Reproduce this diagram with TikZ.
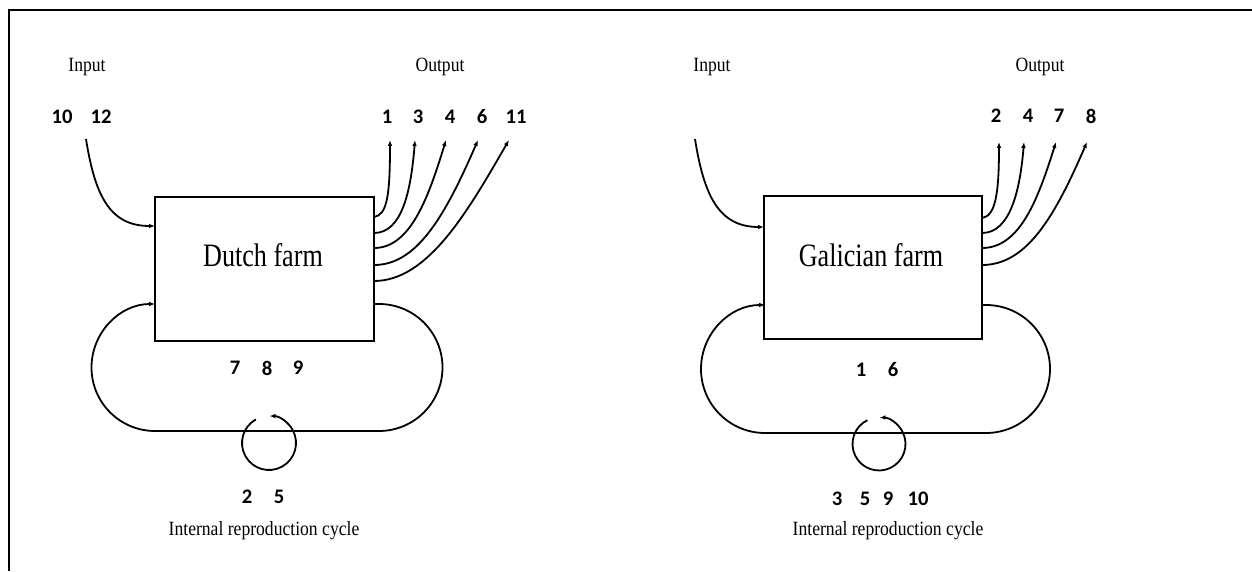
\documentclass[tikz,border=0pt]{standalone}
\usepackage{fontspec}
\setmainfont{Liberation Serif}
\newfontfamily\numfont{Carlito}
\usetikzlibrary{arrows.meta}
\begin{document}
\begin{tikzpicture}[x=0.75pt,y=0.75pt,
  line width=1.35pt,
  frameline/.style={line width=1.4pt},
  farmbox/.style={draw, line width=1.2pt, minimum width=164pt, minimum height=108pt, inner sep=0pt},
  farmtext/.style={font=\fontsize{19.6}{22}\selectfont, inner sep=0pt},
  lbl/.style={font=\fontsize{13.2}{15}\selectfont, inner sep=0pt},
  num/.style={font=\numfont\bfseries\fontsize{15.5}{17}\selectfont, inner sep=0pt},
  flow/.style={-{Latex[length=4.5pt,width=3.5pt]}},
]
\useasboundingbox (0,0) rectangle (1252,571);
% frame
\draw[frameline] (9,0) -- (9,561) -- (1252,561);

% ================= Dutch farm =================
\node[farmbox] (dbox) at (264.5,302) {};
\node[farmtext] (dlab) at (263,316) {\scalebox{1}[1.25]{Dutch farm}};
\node[lbl] (din) at (87,504) {\scalebox{1}[1.15]{Input}};
\node[lbl] (dout) at (440,504) {\scalebox{1}[1.15]{Output}};
\node[num] (dn10) at (62,454) {10};
\node[num] (dn12) at (101,454) {12};
\node[num] (do1) at (387,454) {1};
\node[num] (do3) at (418,454) {3};
\node[num] (do4) at (450,454) {4};
\node[num] (do6) at (482,454) {6};
\node[num] (do11) at (516,454) {11};
\node[num] (dl7) at (235,203) {7};
\node[num] (dl8) at (267,203) {8};
\node[num] (dl9) at (298,203) {9};
\node[num] (dc2) at (247,74) {2};
\node[num] (dc5) at (279,74) {5};
\node[lbl] (dcyc) at (264,40) {\scalebox{1}[1.15]{Internal reproduction cycle}};

\coordinate (dis) at (86,432);
\coordinate (die) at (155,345);
\draw[flow] (dis) .. controls (95,375) and (110,345) .. (die);

\coordinate (da1) at (374,354); \coordinate (dt1) at (390,431);
\coordinate (da2) at (374,338); \coordinate (dt2) at (415,431);
\coordinate (da3) at (374,323); \coordinate (dt3) at (446,431);
\coordinate (da4) at (374,306); \coordinate (dt4) at (478,431);
\coordinate (da5) at (374,290); \coordinate (dt5) at (509,431);
\draw[flow] (da1) .. controls (387,356) and (390,375) .. (dt1);
\draw[flow] (da2) .. controls (402,338) and (411,380) .. (dt2);
\draw[flow] (da3) .. controls (410,323) and (428,372) .. (dt3);
\draw[flow] (da4) .. controls (417,306) and (445,355) .. (dt4);
\draw[flow] (da5) .. controls (428,290) and (468,360) .. (dt5);

\coordinate (dls) at (374,267);
\draw[flow] (dls) -- (379,267) arc[start angle=90,end angle=-90,radius=63.5]
  -- (155,140) arc[start angle=270,end angle=90,radius=63.5];

\coordinate (dcc) at (269,128);
\draw[flow] ([shift={(119:27)}]dcc) arc[start angle=119,end angle=449,radius=27];

% ================= Galician farm =================
\node[farmbox, minimum width=163.5pt, minimum height=107.25pt] (gbox) at (873,303.5) {};
\node[farmtext] (glab) at (871,316) {\scalebox{1}[1.25]{Galician farm}};
\node[lbl] (gin) at (712,504) {\scalebox{1}[1.15]{Input}};
\node[lbl] (gout) at (1040,504) {\scalebox{1}[1.15]{Output}};
\node[num] (go2) at (996,455) {2};
\node[num] (go4) at (1028,455) {4};
\node[num] (go7) at (1059,455) {7};
\node[num] (go8) at (1091,455) {8};
\node[num] (gl1) at (861,201) {1};
\node[num] (gl6) at (893,201) {6};
\node[num] (gc3) at (837,72) {3};
\node[num] (gc5) at (865,72) {5};
\node[num] (gc9) at (888,72) {9};
\node[num] (gc10) at (918,72) {10};
\node[lbl] (gcyc) at (888,40) {\scalebox{1}[1.15]{Internal reproduction cycle}};

\coordinate (gis) at (695,432);
\coordinate (gie) at (764,344);
\draw[flow] (gis) .. controls (704,375) and (719,344) .. (gie);

\coordinate (ga1) at (982,353); \coordinate (gt1) at (999,429);
\coordinate (ga2) at (982,338); \coordinate (gt2) at (1024,429);
\coordinate (ga3) at (982,323); \coordinate (gt3) at (1056,429);
\coordinate (ga4) at (982,306); \coordinate (gt4) at (1087,429);
\draw[flow] (ga1) .. controls (995,355) and (999,375) .. (gt1);
\draw[flow] (ga2) .. controls (1010,338) and (1020,380) .. (gt2);
\draw[flow] (ga3) .. controls (1020,323) and (1038,372) .. (gt3);
\draw[flow] (ga4) .. controls (1027,306) and (1055,355) .. (gt4);

\coordinate (gls) at (982,266);
\draw[flow] (gls) -- (986,266) arc[start angle=90,end angle=-90,radius=64]
  -- (765,138) arc[start angle=270,end angle=90,radius=64];

\coordinate (gcc) at (879,127);
\draw[flow] ([shift={(116:26.5)}]gcc) arc[start angle=116,end angle=449,radius=26.5];
\end{tikzpicture}
\end{document}
